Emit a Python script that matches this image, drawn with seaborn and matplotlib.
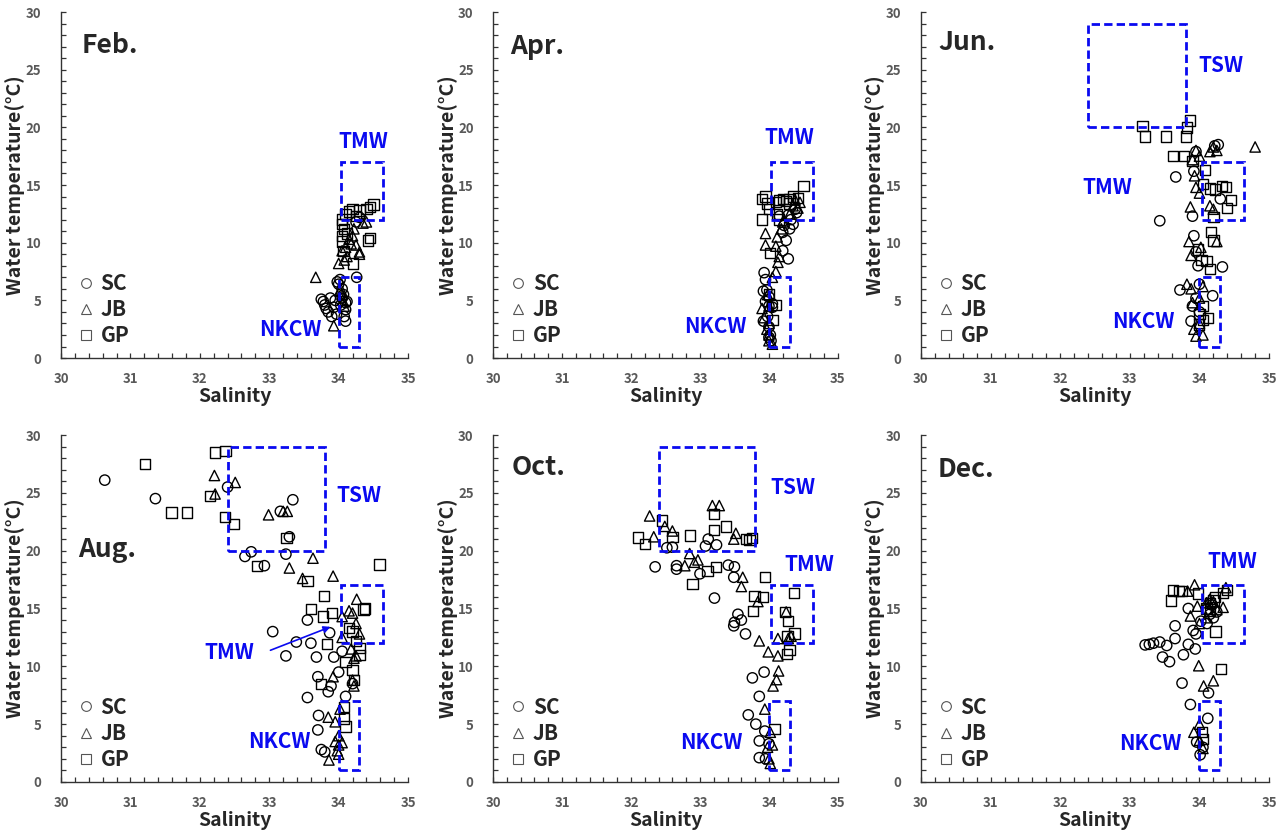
import pandas as pd
import matplotlib
matplotlib.use('Agg')
import matplotlib.pyplot as plt
import seaborn as sns
from matplotlib.lines import Line2D
from matplotlib.patches import Rectangle
from matplotlib.ticker import MultipleLocator

sns.set_theme(style='ticks')
plt.rcParams['font.family'] = ['Noto Sans CJK KR', 'DejaVu Sans']

# ---- data: (salinity, temperature) ----
FEB_SC = [(33.75, 5.1), (33.78, 4.9), (33.8, 4.6), (33.82, 4.3), (33.85, 4.0), (33.9, 3.6),
          (33.93, 4.4), (33.95, 5.0), (33.88, 5.2), (34.0, 6.4), (33.98, 6.6), (34.02, 6.8),
          (34.05, 6.0), (34.07, 5.5), (34.1, 4.8), (34.1, 4.2), (34.08, 3.6), (34.1, 3.2),
          (34.05, 5.2), (34.26, 7.0), (33.97, 3.8), (34.03, 4.6), (34.12, 4.9), (34.25, 11.8),
          (34.3, 12.2)]
FEB_JB = [(33.67, 7.0), (33.93, 2.8), (34.0, 8.2), (34.05, 9.3), (34.1, 9.6), (34.12, 8.8),
          (34.15, 10.3), (34.2, 10.6), (34.22, 11.2), (34.25, 9.8), (34.3, 9.2), (34.3, 9.0),
          (34.35, 11.7), (34.4, 11.8), (34.18, 9.9), (34.08, 8.5), (34.03, 6.0), (34.05, 5.5),
          (34.06, 5.0), (34.08, 4.5), (34.02, 5.8)]
FEB_GP = [(34.05, 12.0), (34.05, 11.6), (34.05, 10.6), (34.05, 10.1), (34.07, 9.3), (34.21, 8.2),
          (34.1, 12.5), (34.15, 12.7), (34.2, 12.9), (34.3, 12.8), (34.4, 12.9), (34.45, 13.1),
          (34.5, 13.3), (34.45, 10.4), (34.42, 10.2), (34.25, 12.3), (34.08, 11.2), (34.12, 10.8)]

APR_SC = [(33.93, 7.4), (33.95, 6.8), (33.92, 5.8), (33.97, 5.9), (34.0, 5.3), (33.95, 4.9),
          (34.0, 4.5), (34.05, 4.4), (33.92, 3.2), (33.98, 3.6), (34.0, 2.7), (34.02, 2.0),
          (34.03, 1.5), (34.0, 1.8), (34.05, 4.7), (34.2, 9.3), (34.28, 8.6), (34.25, 10.2),
          (34.3, 11.2), (34.35, 11.6), (34.32, 12.0), (34.2, 10.9), (34.15, 12.3), (34.4, 12.6),
          (34.38, 12.9), (34.28, 12.4), (34.22, 11.5)]
APR_JB = [(33.95, 10.8), (33.95, 9.8), (33.9, 4.3), (33.93, 3.5), (33.97, 2.5), (34.0, 2.0),
          (34.0, 1.5), (34.05, 1.2), (34.05, 7.0), (34.1, 7.5), (34.13, 8.3), (34.15, 8.8),
          (34.1, 9.7), (34.12, 10.5), (34.18, 11.2), (34.2, 11.8), (34.3, 12.5), (34.35, 13.2),
          (34.42, 13.0), (34.45, 13.5), (34.38, 13.7), (34.0, 4.5), (33.98, 5.5), (34.0, 3.0)]
APR_GP = [(33.9, 13.8), (33.95, 14.0), (33.98, 13.4), (33.9, 12.0), (34.0, 12.9), (34.1, 13.5),
          (34.15, 13.7), (34.2, 13.8), (34.25, 13.6), (34.3, 13.8), (34.35, 14.0), (34.42, 13.9),
          (34.5, 14.9), (34.12, 12.5), (34.15, 12.0), (34.02, 9.1), (34.05, 3.3), (34.1, 4.6),
          (34.0, 5.5), (34.3, 13.4)]

JUN_SC = [(33.43, 11.9), (33.66, 15.7), (33.9, 12.3), (33.92, 10.6), (33.95, 9.2), (33.98, 8.0),
          (34.33, 7.9), (33.72, 5.9), (34.19, 5.4), (33.88, 3.2), (33.92, 16.2), (33.95, 17.9),
          (34.22, 18.4), (34.27, 18.5), (34.3, 13.8), (34.0, 6.4), (33.95, 5.2), (34.0, 4.0),
          (33.9, 4.5)]
JUN_JB = [(34.8, 18.3), (33.95, 18.0), (33.9, 17.2), (34.0, 17.5), (34.15, 17.9), (34.2, 18.3),
          (34.25, 18.0), (33.93, 15.8), (33.95, 14.8), (34.0, 14.3), (33.87, 13.1), (34.15, 13.2),
          (34.2, 12.9), (33.85, 10.1), (33.88, 8.9), (34.02, 9.6), (34.25, 10.1), (33.82, 6.4),
          (33.88, 6.0), (34.05, 6.2), (34.0, 5.2), (33.9, 4.8), (33.92, 2.5), (33.95, 1.9),
          (34.05, 2.0), (34.0, 3.0)]
JUN_GP = [(33.18, 20.1), (33.22, 19.2), (33.52, 19.2), (33.81, 19.2), (33.82, 20.0), (33.86, 20.6),
          (33.62, 17.5), (33.78, 17.5), (33.9, 17.1), (34.08, 16.3), (34.05, 15.1), (34.15, 14.7),
          (34.22, 14.6), (34.32, 14.9), (34.38, 14.8), (34.45, 13.7), (34.4, 13.0), (34.2, 12.2),
          (34.17, 10.9), (34.2, 10.2), (33.98, 9.4), (34.03, 8.5), (34.1, 8.4), (34.15, 7.7),
          (34.05, 4.5), (34.12, 3.5), (34.0, 3.8), (34.05, 3.3), (33.99, 2.9)]

AUG_SC = [(30.63, 26.1), (31.36, 24.5), (32.4, 25.5), (33.34, 24.4), (33.16, 23.4), (33.29, 21.2),
          (32.65, 19.5), (32.74, 19.9), (32.93, 18.7), (33.24, 19.7), (33.05, 13.0), (33.24, 10.9),
          (33.39, 12.1), (33.55, 14.0), (33.6, 12.0), (33.68, 10.8), (33.87, 12.9), (33.93, 10.8),
          (33.7, 9.1), (33.89, 8.3), (33.85, 7.8), (34.0, 9.5), (33.55, 7.3), (33.71, 5.75),
          (33.7, 4.5), (33.75, 2.8), (33.8, 2.6), (34.05, 11.3), (34.1, 7.4), (34.2, 8.5)]
AUG_JB = [(32.21, 26.5), (32.22, 24.9), (32.51, 25.9), (32.99, 23.1), (33.2, 23.4), (33.26, 23.4),
          (33.29, 18.5), (33.63, 19.35), (33.48, 17.6), (33.92, 17.8), (34.26, 15.8), (34.05, 14.3),
          (34.15, 14.8), (34.2, 14.6), (34.25, 13.7), (34.3, 12.8), (34.05, 12.5), (34.18, 11.5),
          (34.22, 10.7), (34.25, 10.9), (33.92, 9.1), (34.2, 8.8), (34.22, 8.3), (33.85, 5.6),
          (33.95, 5.2), (34.0, 4.0), (33.95, 3.5), (34.0, 3.2), (34.05, 3.4), (33.98, 2.7),
          (33.86, 1.9), (34.0, 2.4), (34.02, 6.3)]
AUG_GP = [(31.21, 27.5), (32.22, 28.5), (32.37, 28.6), (31.59, 23.3), (31.82, 23.3), (32.15, 24.7),
          (32.36, 22.9), (32.49, 22.3), (33.25, 21.1), (32.82, 18.7), (33.55, 17.4), (34.59, 18.8),
          (33.79, 16.1), (33.6, 14.95), (33.77, 14.3), (33.9, 14.6), (33.83, 11.9), (33.75, 8.45),
          (34.36, 14.9), (34.38, 15.0), (34.15, 13.3), (34.2, 13.0), (34.25, 12.2), (34.3, 11.6),
          (34.3, 11.0), (34.1, 10.4), (34.2, 9.7), (34.22, 8.8), (34.08, 6.5), (34.08, 5.5),
          (34.1, 4.8)]

OCT_SC = [(32.35, 18.6), (32.52, 20.25), (32.6, 20.3), (32.66, 18.7), (32.66, 18.4), (33.0, 18.0),
          (33.12, 21.0), (33.08, 20.4), (33.24, 20.5), (33.21, 15.9), (33.41, 18.75), (33.5, 18.6),
          (33.49, 17.7), (33.55, 14.5), (33.5, 13.8), (33.49, 13.5), (33.6, 14.0), (33.66, 12.8),
          (33.76, 9.0), (33.93, 9.5), (33.86, 7.4), (33.7, 5.8), (33.81, 5.0), (33.94, 4.4),
          (33.86, 3.55), (33.86, 2.1), (33.95, 2.0), (34.0, 3.3)]
OCT_JB = [(32.27, 23.0), (32.33, 21.2), (32.49, 22.1), (32.6, 21.7), (32.85, 19.75), (32.92, 19.0),
          (32.97, 19.2), (32.78, 18.7), (33.18, 23.9), (33.28, 23.9), (33.52, 21.5), (33.49, 21.0),
          (33.62, 17.7), (33.6, 16.9), (33.84, 15.6), (33.86, 12.2), (33.99, 11.25), (34.13, 10.9),
          (34.14, 9.6), (34.11, 8.85), (34.06, 8.3), (34.13, 12.4), (34.28, 12.4), (34.32, 12.6),
          (34.25, 14.7), (33.94, 6.3), (34.02, 4.3), (34.05, 3.2), (33.98, 3.0), (34.0, 2.0),
          (34.02, 1.6)]
OCT_GP = [(32.1, 21.15), (32.2, 20.6), (32.45, 22.6), (32.6, 21.2), (32.86, 21.3), (32.89, 17.1),
          (33.11, 18.25), (33.23, 18.6), (33.2, 21.8), (33.2, 23.2), (33.38, 22.1), (33.67, 21.0),
          (33.72, 20.9), (33.75, 21.1), (33.94, 17.7), (33.79, 16.1), (33.91, 16.0), (33.77, 14.8),
          (34.23, 14.7), (34.28, 13.9), (34.36, 16.35), (34.37, 12.85), (34.27, 12.6), (34.3, 11.4),
          (34.26, 11.05), (34.08, 4.6)]

DEC_SC = [(33.22, 11.85), (33.28, 11.9), (33.34, 12.0), (33.43, 12.1), (33.47, 10.8), (33.53, 11.8),
          (33.57, 10.4), (33.65, 13.5), (33.65, 12.4), (33.77, 11.0), (33.84, 11.9), (33.94, 11.5),
          (33.84, 15.0), (33.91, 13.1), (33.95, 12.8), (33.75, 8.55), (33.87, 6.7), (34.13, 7.7),
          (34.12, 5.5), (33.96, 3.45), (34.01, 2.35), (34.05, 3.0), (34.11, 13.7), (34.15, 14.5),
          (34.2, 14.2), (34.25, 14.7), (34.18, 15.3), (34.1, 14.9), (34.02, 13.9)]
DEC_JB = [(33.83, 16.5), (33.93, 17.05), (33.87, 14.35), (33.97, 15.2), (34.0, 13.7), (33.99, 10.05),
          (34.06, 8.3), (34.2, 8.75), (33.92, 4.3), (34.0, 5.0), (34.0, 3.6), (34.05, 2.9),
          (34.1, 15.5), (34.15, 15.8), (34.2, 15.6), (34.34, 15.1), (34.38, 16.8), (34.25, 14.9),
          (34.1, 14.2)]
DEC_GP = [(33.59, 15.7), (33.62, 16.55), (33.71, 16.5), (33.75, 16.5), (33.98, 16.3), (34.1, 15.0),
          (34.15, 15.5), (34.2, 15.7), (34.22, 16.0), (34.23, 13.0), (34.34, 16.35), (34.4, 16.6),
          (34.31, 9.75), (34.04, 4.3), (34.05, 3.7), (34.15, 14.8)]

MONTHS = ['Feb.', 'Apr.', 'Jun.', 'Aug.', 'Oct.', 'Dec.']
SITES = ['SC', 'JB', 'GP']
MARKERS = {'SC': 'o', 'JB': '^', 'GP': 's'}

# water mass boxes: salinity min, max, temperature min, max
NKCW = (34.0, 34.3, 1.0, 7.0)
TMW = (34.03, 34.64, 12.0, 17.0)
TSW = (32.4, 33.8, 20.0, 29.0)

rows = []
for month, groups in zip(MONTHS, [(FEB_SC, FEB_JB, FEB_GP), (APR_SC, APR_JB, APR_GP),
                                  (JUN_SC, JUN_JB, JUN_GP), (AUG_SC, AUG_JB, AUG_GP),
                                  (OCT_SC, OCT_JB, OCT_GP), (DEC_SC, DEC_JB, DEC_GP)]):
    for site, pts in zip(SITES, groups):
        for s, t in pts:
            rows.append({'month': month, 'site': site, 'sal': s, 'temp': t})
df = pd.DataFrame(rows)

# per-panel settings: boxes, labels (text, x, y), title pos
panels = {
    'Feb.': dict(boxes=[NKCW, TMW], labels=[('TMW', 34.35, 18.8), ('NKCW', 33.3, 2.5)], title=(0.058, 0.903)),
    'Apr.': dict(boxes=[NKCW, TMW], labels=[('TMW', 34.29, 19.1), ('NKCW', 33.22, 2.7)], title=(0.049, 0.90)),
    'Jun.': dict(boxes=[NKCW, TMW, TSW], labels=[('TSW', 34.31, 25.4), ('TMW', 32.67, 14.8), ('NKCW', 33.19, 3.2)],
                 title=(0.049, 0.913)),
    'Aug.': dict(boxes=[NKCW, TMW, TSW], labels=[('TSW', 34.29, 24.8), ('TMW', 32.43, 11.2), ('NKCW', 33.14, 3.5)],
                 title=(0.049, 0.669)),
    'Oct.': dict(boxes=[NKCW, TMW, TSW], labels=[('TSW', 34.35, 25.5), ('TMW', 34.58, 18.8), ('NKCW', 33.17, 3.4)],
                 title=(0.055, 0.905)),
    'Dec.': dict(boxes=[NKCW, TMW], labels=[('TMW', 34.47, 19.05), ('NKCW', 33.29, 3.3)], title=(0.049, 0.90)),
}

fig = plt.figure(figsize=(12.82, 8.34), dpi=100)
lefts = [0.0476, 0.3846, 0.7184]
widths = [0.2707, 0.269, 0.2715]
bottoms = [0.5707, 0.0624]
heights = [0.4149, 0.416]

BLUE = '#0a0af0'
GRAY = '#595959'

for i, month in enumerate(MONTHS):
    r, c = divmod(i, 3)
    ax = fig.add_axes([lefts[c], bottoms[r], widths[c], heights[r]])
    sub = df[df['month'] == month]
    for site in SITES:
        d = sub[sub['site'] == site]
        sns.scatterplot(data=d, x='sal', y='temp', marker=MARKERS[site], s=55,
                        facecolor='none', edgecolor='black', linewidth=1.0, ax=ax)

    cfg = panels[month]
    for x0, x1, y0, y1 in cfg['boxes']:
        ax.add_patch(Rectangle((x0, y0), x1 - x0, y1 - y0, fill=False, edgecolor=BLUE,
                               linewidth=2.0, linestyle=(0, (3, 1.5)), zorder=3))
    for txt, x, y in cfg['labels']:
        ax.text(x, y, txt, color=BLUE, fontsize=15, fontweight='bold', ha='center', va='center')
    if month == 'Aug.':
        ax.annotate('', xy=(33.92, 13.5), xytext=(32.98, 11.3),
                    arrowprops=dict(arrowstyle='-|>', color=BLUE, lw=1.2, mutation_scale=10))

    ax.text(cfg['title'][0], cfg['title'][1], month, transform=ax.transAxes,
            fontsize=19, fontweight='bold', ha='left', va='center')

    ax.set_xlim(30, 35)
    ax.set_ylim(0, 30)
    ax.xaxis.set_major_locator(MultipleLocator(1))
    ax.xaxis.set_minor_locator(MultipleLocator(0.2))
    ax.yaxis.set_major_locator(MultipleLocator(5))
    ax.yaxis.set_minor_locator(MultipleLocator(1))
    ax.tick_params(which='both', direction='in', length=3.5, width=0.9, color='#333333')
    ax.tick_params(axis='x', which='major', pad=10, labelsize=9.5, labelcolor=GRAY)
    ax.tick_params(axis='y', which='major', pad=14, labelsize=9.5, labelcolor=GRAY)
    for lab in ax.get_xticklabels() + ax.get_yticklabels():
        lab.set_fontweight('bold')
    sns.despine(ax=ax)
    for sp in ['left', 'bottom']:
        ax.spines[sp].set_color('#333333')
        ax.spines[sp].set_linewidth(1.0)

    ax.set_xlabel('Salinity', fontsize=14, fontweight='bold')
    ax.set_ylabel('Water temperature(°C)', fontsize=14, fontweight='bold')
    ax.xaxis.set_label_coords(0.5, -0.085)
    ax.yaxis.set_label_coords(-0.103, 0.5)

    handles = [Line2D([], [], marker=MARKERS[s], ls='none', mfc='none', mec='#555555',
                      ms=7, mew=0.8) for s in SITES]
    leg = ax.legend(handles, SITES, loc='center left', bbox_to_anchor=(-0.012, 0.14),
                    frameon=False, handletextpad=0.2, labelspacing=0.25, handlelength=1.0,
                    prop={'size': 15, 'weight': 'bold'})

fig.savefig('out.png', dpi=100)
